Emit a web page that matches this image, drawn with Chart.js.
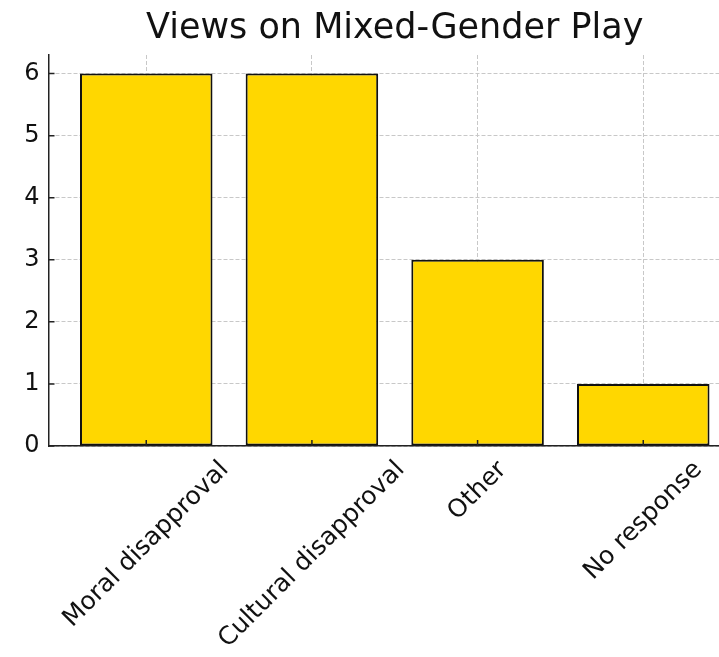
<!DOCTYPE html>
<html>
<head>
<meta charset="utf-8">
<script src="https://cdn.jsdelivr.net/npm/chart.js@4"></script>
<style>
  html, body { margin: 0; padding: 0; background: #fff; overflow: hidden; }
  #wrap { width: 719px; height: 657px; overflow: hidden; }
</style>
</head>
<body>
<div id="wrap"><canvas id="chart" width="745" height="657"></canvas></div>
<script>
// Chart data
const categories = ['Moral disapproval', 'Cultural disapproval', 'Other', 'No response'];
const counts = [6, 6, 3, 1];
const yTicks = [0, 1, 2, 3, 4, 5, 6];

const FONT = '"DejaVu Sans", sans-serif';
const TEXT = '#111';

// matplotlib style: inward tick marks + centred 45° category labels
const mplAxes = {
    id: 'mplAxes',
    afterDraw(chart) {
        const ctx = chart.ctx;
        const xs = chart.scales.x;
        const ys = chart.scales.y;
        const area = chart.chartArea;

        ctx.save();
        ctx.strokeStyle = '#222';
        ctx.lineWidth = 1.5;
        ctx.beginPath();
        yTicks.forEach(v => {
            const y = ys.getPixelForValue(v);
            ctx.moveTo(area.left, y);
            ctx.lineTo(area.left + 6, y);
        });
        categories.forEach((c, i) => {
            const x = xs.getPixelForValue(i);
            ctx.moveTo(x, area.bottom);
            ctx.lineTo(x, area.bottom - 6);
        });
        ctx.stroke();

        ctx.font = '25px ' + FONT;
        ctx.fillStyle = TEXT;
        ctx.textAlign = 'center';
        ctx.textBaseline = 'middle';
        categories.forEach((c, i) => {
            const w = ctx.measureText(c).width;
            const x = xs.getPixelForValue(i);
            const y = area.bottom + 11 + (w + 25) * Math.SQRT1_2 / 2;
            ctx.save();
            ctx.translate(x, y);
            ctx.rotate(-Math.PI / 4);
            ctx.fillText(c, 0, 0);
            ctx.restore();
        });
        ctx.restore();
    }
};

new Chart(document.getElementById('chart'), {
    type: 'bar',
    data: {
        datasets: [{
            data: counts.map((v, i) => ({ x: i, y: v })),
            backgroundColor: '#FFD700',
            borderColor: '#111',
            borderWidth: 2,
            borderSkipped: false,
            categoryPercentage: 0.8,
            barPercentage: 1.0
        }]
    },
    options: {
        responsive: false,
        animation: false,
        devicePixelRatio: 1,
        layout: { padding: { right: 4 } },
        plugins: {
            legend: { display: false },
            tooltip: { enabled: false },
            title: {
                display: true,
                text: 'Views on Mixed-Gender Play',
                fullSize: false,
                color: TEXT,
                font: { family: FONT, size: 35, weight: 'normal' },
                padding: { top: 8, bottom: 5 }
            }
        },
        scales: {
            x: {
                type: 'linear',
                min: -0.59,
                max: 3.59,
                offset: false,
                z: 1,
                afterBuildTicks: s => { s.ticks = categories.map((c, i) => ({ value: i })); },
                afterFit: s => { s.height = 211; },
                ticks: { display: false },
                grid: { offset: false, color: '#c8c8c8', lineWidth: 1, drawTicks: false },
                border: { color: '#222', width: 1.5, dash: [4, 2] }
            },
            y: {
                min: 0,
                max: 6.3,
                z: 1,
                afterBuildTicks: s => { s.ticks = yTicks.map(v => ({ value: v })); },
                afterFit: s => { s.width = 48.5; },
                ticks: {
                    color: TEXT,
                    padding: 9,
                    font: { family: FONT, size: 24 }
                },
                grid: { color: '#c8c8c8', lineWidth: 1, drawTicks: false },
                border: { color: '#222', width: 1.5, dash: [4, 2] }
            }
        }
    },
    plugins: [mplAxes]
});
</script>
</body>
</html>
